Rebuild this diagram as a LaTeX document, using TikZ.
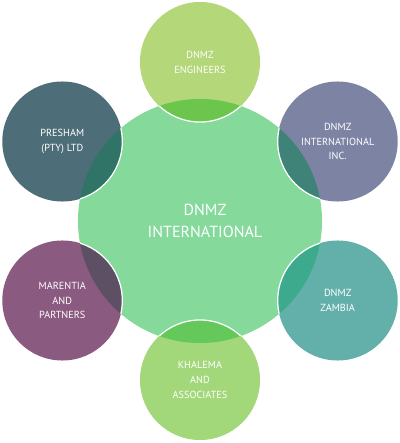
\documentclass[tikz,border=0pt]{standalone}
\usepackage{fontspec}
\setmainfont{PT Sans}
\usepackage{tikz}
\usetikzlibrary{positioning,calc}
\definecolor{hubmint}{RGB}{132,217,155}
\definecolor{engrgreen}{RGB}{180,215,122}
\definecolor{incslate}{RGB}{125,132,163}
\definecolor{preshteal}{RGB}{77,110,120}
\definecolor{marplum}{RGB}{138,90,128}
\definecolor{zamteal}{RGB}{99,176,170}
\definecolor{khalgreen}{RGB}{163,216,122}
% overlap colours (satellite over hub)
\definecolor{ovengr}{RGB}{108,198,78}
\definecolor{ovinc}{RGB}{63,130,119}
\definecolor{ovpresh}{RGB}{47,116,102}
\definecolor{ovmar}{RGB}{94,80,100}
\definecolor{ovzam}{RGB}{61,170,142}
\definecolor{ovkhal}{RGB}{100,200,90}

\begin{document}
\begin{tikzpicture}[
  x=0.025cm,y=0.025cm,
  hub/.style={circle,fill=hubmint,minimum size=6.1cm,inner sep=0pt,
              align=center,text=white,font=\fontsize{11.4}{15.6}\selectfont},
  sat/.style={circle,minimum size=3cm,inner sep=0pt,align=center,
              text=white,font=\fontsize{7.3}{10.6}\selectfont},
  rim/.style={draw=white,line width=0.9pt},
]
  \useasboundingbox (0,0) rectangle (400,443);

  % centre
  \node[hub] (hub) at (200,222) {\hspace*{0.25cm}DNMZ\\\hspace*{0.25cm}INTERNATIONAL};

  % satellites
  \node[sat,fill=engrgreen] (engr)  at ($(hub)+(90:159)$)  {DNMZ\\ENGINEERS};
  \node[sat,fill=incslate]  (inc)   at ($(hub)+(30:159)$)  {DNMZ\\INTERNATIONAL\\INC.};
  \node[sat,fill=preshteal] (presh) at ($(hub)+(150:159)$) {PRESHAM\\(PTY) LTD};
  \node[sat,fill=marplum]   (mar)   at ($(hub)+(210:159)$) {MARENTIA\\AND\\PARTNERS};
  \node[sat,fill=zamteal]   (zam)   at ($(hub)+(330:159)$) {DNMZ\\ZAMBIA};
  \node[sat,fill=khalgreen] (khal)  at ($(hub)+(270:159)$) {KHALEMA\\AND\\ASSOCIATES};

  % overlaps with the centre
  \begin{scope}
    \clip (hub.center) circle[radius=3.05cm];
    \fill[ovengr]  (engr.center)  circle[radius=1.5cm];
    \fill[ovinc]   (inc.center)   circle[radius=1.5cm];
    \fill[ovpresh] (presh.center) circle[radius=1.5cm];
    \fill[ovmar]   (mar.center)   circle[radius=1.5cm];
    \fill[ovzam]   (zam.center)   circle[radius=1.5cm];
    \fill[ovkhal]  (khal.center)  circle[radius=1.5cm];
    % rims
    \draw[rim] (engr.center)  circle[radius=1.5cm];
    \draw[rim] (inc.center)   circle[radius=1.5cm];
    \draw[rim] (presh.center) circle[radius=1.5cm];
    \draw[rim] (mar.center)   circle[radius=1.5cm];
    \draw[rim] (zam.center)   circle[radius=1.5cm];
    \draw[rim] (khal.center)  circle[radius=1.5cm];
  \end{scope}
\end{tikzpicture}
\end{document}
